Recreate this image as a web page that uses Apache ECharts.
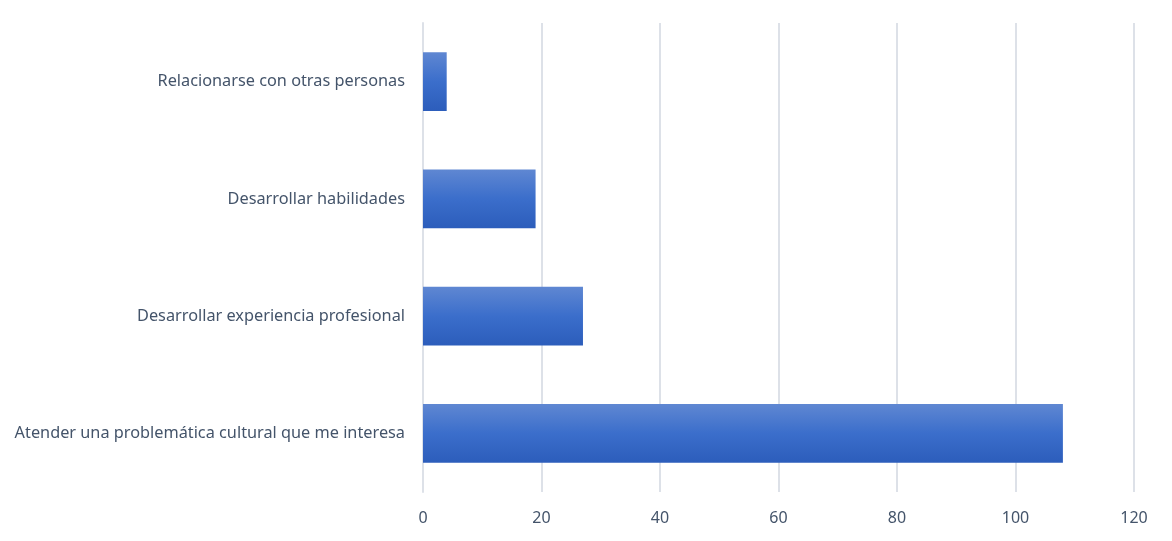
<!DOCTYPE html>
<html><head><meta charset="utf-8">
<script src="https://cdn.jsdelivr.net/npm/echarts@6/dist/echarts.min.js"></script>
<style>html,body{margin:0;padding:0;background:#fff}#c{width:1172px;height:541px}</style>
</head><body><div id="c"></div>
<script>
const categories = ["Atender una problemática cultural que me interesa","Desarrollar experiencia profesional","Desarrollar habilidades","Relacionarse con otras personas"];
const values = [108, 27, 19, 4];
const chart = echarts.init(document.getElementById('c'));
chart.setOption({
  animation:false,
  grid:{left:423,right:38,top:23,bottom:49,containLabel:false},
  xAxis:{type:'value',min:0,max:120,interval:20,
    axisLine:{show:false},axisTick:{show:false},
    axisLabel:{color:'#44546a',fontSize:16,fontFamily:'Noto Sans',margin:18},
    splitLine:{lineStyle:{color:'#dde1e8',width:2}}},
  yAxis:{type:'category',data:categories,
    axisLine:{show:true,lineStyle:{color:'#dde1e8',width:2}},axisTick:{show:false},
    axisLabel:{color:'#44546a',fontSize:16.3,fontFamily:'Noto Sans',margin:18}},
  series:[{type:'bar',data:values,barWidth:'50%',
    itemStyle:{color:new echarts.graphic.LinearGradient(0,0,0,1,[{offset:0,color:'#5f87d2'},{offset:0.5,color:'#3b6ecb'},{offset:1,color:'#2c5dbb'}])}}]
});
</script></body></html>
